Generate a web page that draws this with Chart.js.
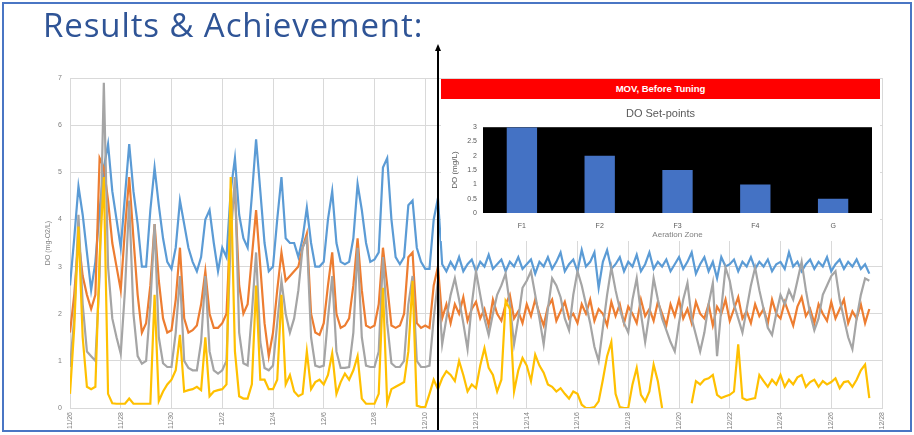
<!DOCTYPE html>
<html>
<head>
<meta charset="utf-8">
<script src="https://cdn.jsdelivr.net/npm/chart.js@4.4.1/dist/chart.umd.min.js"></script>
<style>
  html, body { margin: 0; padding: 0; background: #fff; }
  body { width: 914px; height: 435px; position: relative; overflow: hidden; }
  #main { position: absolute; left: 0; top: 0; }
  #title { position: absolute; left: 43px; top: 2px; font-family: "Open Sans", Lato, sans-serif; font-size: 33px; letter-spacing: 0.9px; color: #2f5496; white-space: nowrap; }
  #insetBox { position: absolute; left: 441px; top: 99px; width: 439px; height: 142px; background: #fff; }
  #banner { position: absolute; left: 441px; top: 79px; width: 439px; height: 20px; background: #ff0000; color: #fff;
            font: bold 9.5px "Liberation Sans", Arial, sans-serif; text-align: center; line-height: 20px; }
  #arrow { position: absolute; left: 437px; top: 50px; width: 2px; height: 382px; background: #000; }
  #arrowHead { position: absolute; left: 435px; top: 44px; width: 0; height: 0;
               border-left: 3px solid transparent; border-right: 3px solid transparent; border-bottom: 7px solid #000; }
  #frame { position: absolute; left: 2px; top: 2px; width: 906px; height: 426px; border: 2px solid #4a76c4; }
</style>
</head>
<body>
<canvas id="main" width="914" height="435"></canvas>
<div id="title">Results &amp; Achievement:</div>
<div id="insetBox"><canvas id="inset" width="439" height="142"></canvas></div>
<div id="banner">MOV, Before Tuning</div>
<div id="arrow"></div>
<div id="arrowHead"></div>
<div id="frame"></div>

<script>
// x axis: days since 11/26, one reading every 4 hours
const tickLabels = ["11/26", "11/28", "11/30", "12/2", "12/4", "12/6", "12/8", "12/10", "12/12",
                    "12/14", "12/16", "12/18", "12/20", "12/22", "12/24", "12/26", "12/28"];
const stepDays = 1 / 6;

// DO readings (mg-O2/L), one row per day
const blue = [
  2.6, 3.6, 4.7, 4.1, 3.3, 2.5,
  3.1, 4.2, 5.1, 5.6, 4.6, 4.0,
  3.4, 4.5, 5.6, 4.6, 3.9, 3.0,
  3.0, 4.2, 5.1, 4.3, 3.6, 3.1,
  2.95, 3.4, 4.4, 3.9, 3.4, 3.1,
  2.9, 3.2, 4.0, 4.2, 3.5, 2.9,
  3.4, 3.2, 4.6, 5.3, 4.1, 3.6,
  3.4, 4.5, 5.7, 4.6, 3.5, 2.9,
  3.0, 4.0, 4.9, 3.6, 3.5, 3.5,
  3.2, 3.6, 4.25, 3.5, 3.0, 3.0,
  3.1, 4.0, 4.6, 3.5, 3.1, 3.05,
  3.1, 3.6, 4.75, 4.2, 3.5, 3.1,
  3.15, 3.3, 5.1, 5.3, 4.0, 3.2,
  3.05, 3.2, 4.3, 4.4, 3.4, 3.1,
  2.95, 2.95, 4.0, 4.45, 3.05, 2.9,
  3.1, 2.95, 3.2, 2.9, 3.05, 3.15,
  2.9, 3.1, 3.0, 3.25, 2.95, 3.05,
  3.15, 2.9, 3.1, 3.0, 3.2, 2.95,
  3.05, 3.15, 2.85, 3.1, 3.0, 3.2,
  2.95, 3.1, 3.3, 2.9, 3.05, 3.15,
  2.9, 3.35, 3.0, 3.1, 3.3, 2.55,
  3.1, 3.35, 2.95, 3.05, 3.2, 2.9,
  3.1, 3.0, 3.25, 2.9, 3.05, 3.3,
  2.95, 3.1, 3.0, 3.15, 2.9, 3.05,
  3.2, 2.95, 3.1, 3.3, 2.85, 3.05,
  3.2, 2.9, 3.1, 2.75, 3.2, 3.0,
  3.05, 3.15, 2.9, 3.1, 3.0, 3.2,
  2.95, 3.1, 3.0, 3.15, 2.9, 3.05,
  3.1, 2.95, 3.3, 3.0, 3.1, 2.9,
  3.05, 3.15, 2.95, 3.1, 3.0, 3.2,
  2.9, 3.05, 3.15, 2.95, 3.1, 3.0,
  3.15, 2.95, 3.05, 2.85
];
const orange = [
  1.6, 2.4, 3.6, 2.8, 2.4, 2.1,
  2.4, 5.3, 5.1, 4.4, 3.5, 3.0,
  2.5, 3.8, 4.9, 3.6, 2.4, 1.6,
  1.8, 2.6, 3.9, 2.7, 1.9, 1.6,
  1.65, 2.3, 3.4, 1.9, 1.6, 1.65,
  1.75, 2.2, 2.9, 2.0, 1.7, 1.7,
  1.8, 2.0, 4.0, 4.6, 2.6, 2.0,
  2.2, 3.2, 4.2, 3.0, 1.8, 1.1,
  1.6, 2.5, 3.3, 2.7, 2.8, 2.9,
  3.0, 3.4, 3.7, 2.0, 1.6, 1.55,
  1.8, 2.6, 3.3, 2.0, 1.7, 1.75,
  1.9, 2.6, 3.6, 2.5, 1.75, 1.7,
  1.75, 2.2, 3.4, 2.6, 1.75, 1.7,
  1.75, 2.0, 3.2, 3.3, 1.8, 1.7,
  1.75, 1.7, 2.6, 3.0, 1.9, 2.2,
  1.8, 2.2, 2.0, 2.35, 1.85, 2.1,
  2.25, 1.9, 2.1, 1.75, 2.3, 2.0,
  1.85, 2.2, 2.4, 1.9, 2.05, 1.8,
  2.2, 1.95, 2.3, 2.0, 1.75, 2.15,
  2.3, 1.85, 2.05, 2.25, 1.9, 2.0,
  1.8, 2.2, 2.0, 2.3, 1.85, 2.1,
  2.0, 1.75, 2.25, 1.95, 2.2, 1.8,
  2.15, 2.0, 1.8, 2.3, 1.95, 2.1,
  1.85, 2.25, 2.0, 1.75, 2.2, 1.95,
  2.3, 1.9, 2.1, 1.8, 2.25, 2.0,
  1.9, 2.2, 1.75, 2.15, 2.0, 2.3,
  1.85, 2.1, 2.35, 1.9, 2.05, 1.8,
  2.2, 1.95, 2.1, 1.8, 2.3, 2.0,
  1.9, 2.25, 2.0, 1.75, 2.15, 2.35,
  1.95, 2.1, 1.8, 2.2, 2.0, 1.85,
  2.25, 1.9, 2.1, 2.3, 1.8, 2.05,
  1.9, 2.2, 1.8, 2.1
];
const gray = [
  0.87, 1.9, 4.1, 2.2, 1.2, 1.1,
  1.0, 2.8, 6.9, 3.0, 1.9, 1.5,
  1.15, 2.5, 4.4, 2.0, 1.1, 0.94,
  1.0, 2.2, 3.9, 1.5, 0.95, 0.87,
  0.87, 1.6, 2.8, 1.0, 0.85, 0.8,
  0.8, 1.4, 2.8, 1.2, 0.8, 0.73,
  0.8, 1.0, 3.6, 4.9, 1.6, 0.95,
  0.9, 2.0, 3.3, 1.4, 0.85, 0.8,
  0.9, 1.8, 2.7, 2.0, 1.6, 1.9,
  2.5, 3.4, 3.6, 1.5, 0.9, 0.87,
  0.9, 1.9, 2.8, 1.2, 0.85, 0.85,
  0.87, 1.6, 3.4, 1.5, 0.9, 0.87,
  0.87, 1.2, 3.2, 1.8, 0.95, 0.87,
  0.87, 1.0, 2.2, 2.8, 1.0, 0.87,
  0.87, 0.9, 1.9, 2.7, 1.35, 1.9,
  2.4, 2.75, 2.3, 1.8, 1.25, 2.2,
  2.9, 2.4, 1.9, 1.55, 2.0, 2.4,
  2.6, 2.85, 2.2, 1.35, 1.9, 2.55,
  2.7, 2.9, 2.4, 1.9, 1.35, 2.1,
  2.75, 2.6, 2.35, 1.9, 1.65, 2.4,
  2.9, 2.6, 2.2, 1.8, 1.3, 1.0,
  1.7, 2.4, 2.98, 2.5, 2.1, 1.8,
  1.6, 2.3, 2.75, 2.0, 1.4, 2.0,
  2.75, 2.3, 1.9, 1.65, 1.4, 1.2,
  1.8, 2.3, 2.65, 1.9, 1.55, 1.2,
  1.6, 2.2, 2.65, 1.1, 2.1, 2.98,
  2.7, 2.2, 1.9, 1.6, 2.1, 2.6,
  2.98, 2.5, 2.1, 1.7, 1.55, 2.0,
  2.4, 2.2, 2.5, 2.3, 2.7, 3.1,
  2.5, 2.0, 1.65, 1.9, 2.4, 2.6,
  2.8, 2.9, 2.3, 1.9, 1.5, 1.25,
  1.9, 2.4, 2.75, 2.7
];
const yellow = [
  0.3, 1.7, 3.85, 1.5, 0.45, 0.4,
  0.45, 3.2, 4.9, 0.3, 0.1, 0.09,
  0.09, 0.09, 0.2, 0.09, 0.09, 0.09,
  0.09, 0.09, 2.4, 0.15, 0.35, 0.5,
  0.6, 0.8, 1.55, 0.35, 0.38, 0.4,
  0.45, 0.38, 1.5, 0.25, 0.35, 0.38,
  0.4, 0.5, 4.9, 1.2, 0.25, 0.2,
  0.2, 0.5, 2.6, 0.6, 0.6, 0.4,
  0.4, 0.6, 2.4, 0.5, 0.7, 0.35,
  0.25, 0.3, 1.2, 0.4, 0.55, 0.6,
  0.5, 0.7, 1.16, 0.3, 0.55, 0.73,
  0.6, 0.8, 1.1, 0.2, 0.09, 0.09,
  0.09, 0.3, 2.55, 0.1, 0.4, 0.45,
  0.5, 0.55, 1.2, 2.7, 0.05, 0.02,
  0.02, 0.3, 0.6, 0.4, 0.63, 0.78,
  0.7, 0.57, 1.0, 0.7, 0.35, 0.5,
  0.42, 0.9, 1.27, 0.85, 0.7, 0.35,
  0.6, 2.27, 2.1, 0.35, 0.8, 1.06,
  0.9, 0.57, 1.13, 0.9, 0.75, 0.5,
  0.45, 0.35, 0.42, 0.3, 0.2, 0.35,
  0.3, 0.07, 0.0, 0.0, 0.02, 0.14,
  0.6, 1.1, 1.4, 0.3, 0.02, 0.0,
  0.0, 0.5, 0.85, 0.28, 0.14, 0.35,
  0.92, 0.57, 0.0, null, null, null,
  null, null, null, 0.1, 0.57, 0.5,
  0.6, 0.63, 0.7, 0.28, 0.21, 0.25,
  0.28, 0.35, 1.35, 0.21, 0.17, 0.19,
  0.21, 0.7, 0.57, 0.45, 0.6, 0.5,
  0.7, 0.45, 0.6, 0.5, 0.65, 0.7,
  0.45, 0.55, 0.6, 0.45, 0.57, 0.5,
  0.55, 0.63, 0.42, 0.55, 0.57, 0.45,
  0.6, 0.8, 0.92, 0.21
];

// inset: DO set-points per aeration zone
const zones = ["F1", "F2", "F3", "F4", "G"];
const setpoints = [3, 2, 1.5, 1, 0.5];

function toPoints(values) {
  return values.map(function (v, i) { return { x: i * stepDays, y: v }; });
}

function line(values, color, order) {
  return {
    data: toPoints(values),
    borderColor: color,
    borderWidth: 2.2,
    pointRadius: 0,
    tension: 0,
    spanGaps: false,
    order: order
  };
}

new Chart(document.getElementById("main").getContext("2d"), {
  type: "line",
  data: {
    datasets: [
      line(blue, "#5b9bd5", 4),
      line(orange, "#ed7d31", 3),
      line(gray, "#a5a5a5", 2),
      line(yellow, "#ffc000", 1)
    ]
  },
  options: {
    responsive: false,
    animation: false,
    layout: { padding: { left: 40, right: 32, top: 78, bottom: 0 } },
    plugins: { legend: { display: false }, tooltip: { enabled: false } },
    scales: {
      x: {
        type: "linear",
        min: 0,
        max: 32,
        afterFit: function (s) { s.height = 27; },
        grid: { color: "#d9d9d9", drawTicks: false },
        border: { color: "#d9d9d9" },
        ticks: {
          stepSize: 2,
          minRotation: 90,
          maxRotation: 90,
          padding: 4,
          color: "#7f7f7f",
          font: { size: 7 },
          callback: function (value) { return tickLabels[Math.round(value / 2)]; }
        }
      },
      y: {
        min: 0,
        max: 7,
        afterFit: function (s) { s.width = 30; },
        grid: { color: "#d9d9d9", drawTicks: false },
        border: { display: false },
        ticks: { stepSize: 1, padding: 8, color: "#7f7f7f", font: { size: 7 } },
        title: { display: true, text: "DO (mg-O2/L)", color: "#7f7f7f", font: { size: 7 }, padding: { top: 4, bottom: 0 } }
      }
    }
  }
});

const blackArea = {
  id: "blackArea",
  beforeDatasetsDraw: function (chart) {
    const a = chart.chartArea;
    chart.ctx.save();
    chart.ctx.fillStyle = "#000";
    chart.ctx.fillRect(a.left, a.top, a.right - a.left, a.bottom - a.top);
    chart.ctx.restore();
  }
};

new Chart(document.getElementById("inset").getContext("2d"), {
  type: "bar",
  data: {
    labels: zones,
    datasets: [{ data: setpoints, backgroundColor: "#4472c4", barPercentage: 0.39, categoryPercentage: 1 }]
  },
  options: {
    responsive: false,
    animation: false,
    layout: { padding: { left: 8, right: 8, top: 0, bottom: 0 } },
    plugins: {
      legend: { display: false },
      tooltip: { enabled: false },
      title: {
        display: true,
        text: "DO Set-points",
        color: "#595959",
        font: { family: "'Liberation Sans', Arial, sans-serif", size: 11, weight: "normal" },
        padding: { top: 8, bottom: 7 }
      }
    },
    scales: {
      x: {
        afterFit: function (s) { s.height = 28; },
        grid: { display: false, drawTicks: false },
        border: { display: false },
        ticks: { padding: 9, color: "#595959", font: { size: 7 } },
        title: { display: true, text: "Aeration Zone", color: "#7f7f7f", font: { size: 8 }, padding: { top: 0, bottom: 1 } }
      },
      y: {
        min: 0,
        max: 3,
        afterFit: function (s) { s.width = 34; },
        grid: { display: false, drawTicks: false },
        border: { display: false },
        ticks: {
          stepSize: 0.5,
          padding: 6,
          color: "#595959",
          font: { size: 7 },
          callback: function (v) { return String(v); }
        },
        title: { display: true, text: "DO (mg/L)", color: "#595959", font: { size: 8 }, padding: { top: 1, bottom: 0 } }
      }
    }
  },
  plugins: [blackArea]
});
</script>
</body>
</html>
